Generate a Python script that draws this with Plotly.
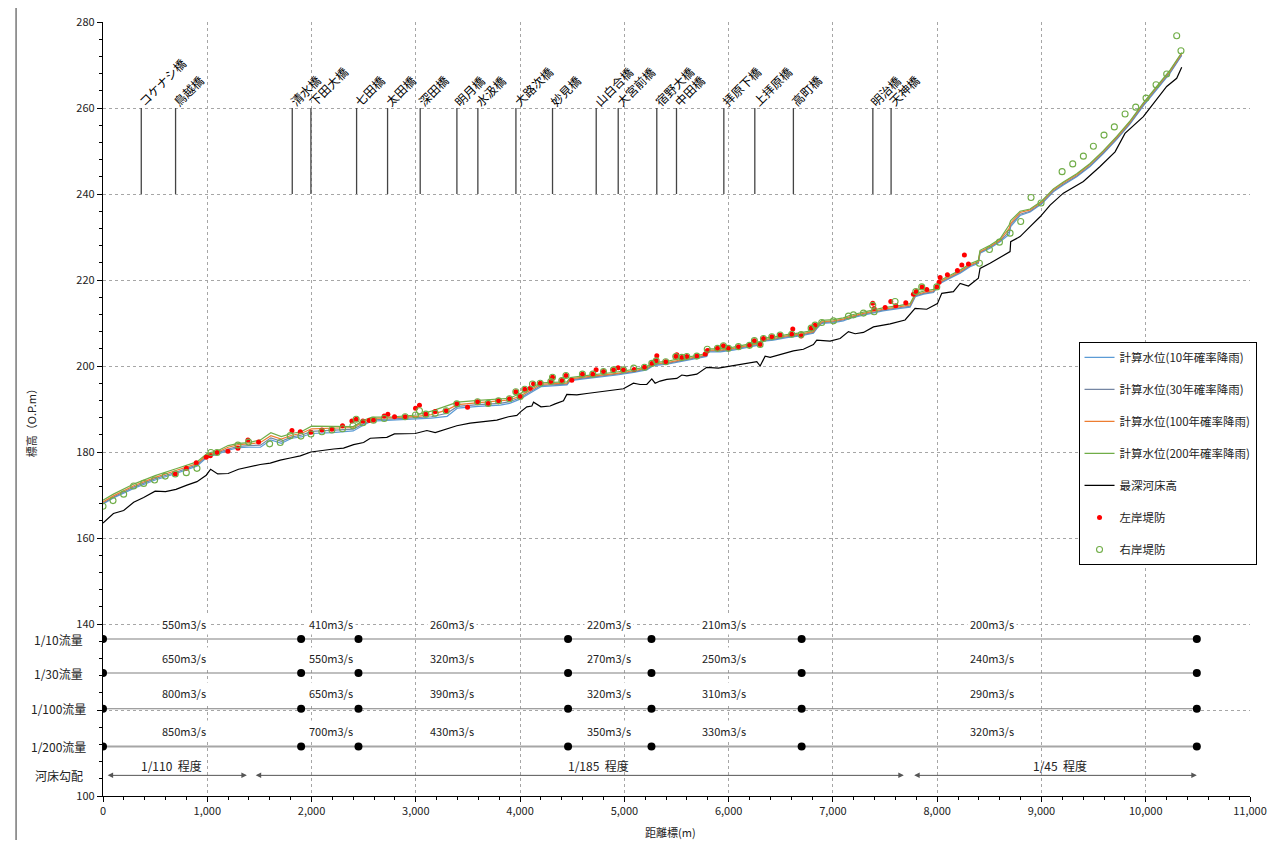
import plotly.graph_objects as go

FONT = "Noto Sans CJK JP"

# ---------------- data ----------------
bridge_names = ["コケナシ橋", "鳥越橋", "清水橋", "下田大橋", "七田橋", "太田橋", "深田橋", "明月橋",
                "水汲橋", "大路次橋", "妙見橋", "山白合橋", "大宮前橋", "宿野大橋", "中田橋",
                "拝原下橋", "上拝原橋", "高町橋", "明治橋", "天神橋"]
bridge_x = [367, 696, 1815, 1994, 2432, 2729, 3042, 3394, 3595, 3960, 4311, 4730, 4941, 5311,
            5500, 5954, 6251, 6621, 7383, 7558]
bridge_bottom, bridge_top = 240, 260

wl_x = [0, 100, 300, 500, 700, 900, 1000, 1100, 1200, 1300, 1400, 1510, 1610, 1710, 1810, 1900,
        2000, 2200, 2400, 2500, 2580, 2790, 3010, 3150, 3300, 3400, 3600, 3810, 3900, 4000, 4130,
        4200, 4450, 4480, 4610, 4770, 4930, 5090, 5215, 5280, 5410, 5535, 5665, 5790, 5806, 5920,
        6045, 6175, 6300, 6335, 6430, 6557, 6685, 6813, 6845, 6893, 7005, 7100, 7165, 7325, 7480,
        7645, 7740, 7790, 7870, 7965, 8028, 8124, 8220, 8315, 8395, 8411, 8507, 8603, 8690, 8705,
        8795, 8891, 9003, 9114, 9210, 9338, 9466, 9594, 9722, 9850, 9977, 10105, 10233, 10345]
wl_10 = [167.9, 169.3, 171.6, 173.5, 175.0, 176.7, 178.8, 179.5, 180.4, 181.0, 181.1, 181.1, 182.8,
         182.0, 183.2, 183.5, 184.3, 184.5, 184.9, 186.3, 187.2, 187.4, 187.6, 187.9, 188.3, 190.2,
         190.6, 190.9, 191.3, 192.3, 194.2, 195.2, 195.6, 196.6, 197.0, 197.4, 197.9, 198.5, 199.1,
         200.1, 200.4, 201.0, 201.6, 202.2, 203.3, 203.3, 203.7, 204.3, 204.9, 205.8, 206.0, 206.6,
         207.0, 207.6, 208.7, 209.9, 210.1, 210.5, 211.1, 212.0, 212.8, 213.4, 213.7, 216.1, 216.7,
         217.1, 219.2, 220.4, 221.6, 223.1, 223.9, 226.2, 227.4, 228.9, 230.6, 232.4, 235.0, 235.8,
         237.7, 240.5, 242.1, 244.0, 246.4, 249.4, 252.7, 256.3, 260.5, 264.3, 268.1, 272.2]
wl_30 = [168.1, 169.5, 171.9, 173.8, 175.3, 177.0, 179.1, 179.8, 180.7, 181.3, 181.5, 181.6, 183.3,
         182.5, 183.5, 183.9, 184.8, 185.0, 185.3, 186.6, 187.5, 187.7, 187.9, 188.2, 189.0, 190.6,
         191.0, 191.3, 191.7, 192.6, 194.5, 195.5, 195.8, 196.8, 197.2, 197.6, 198.1, 198.7, 199.3,
         200.3, 200.6, 201.2, 201.8, 202.4, 203.5, 203.5, 203.9, 204.5, 205.1, 206.0, 206.2, 206.8,
         207.2, 207.8, 208.9, 210.1, 210.3, 210.7, 211.3, 212.2, 213.0, 213.6, 213.9, 216.3, 216.9,
         217.3, 219.4, 220.6, 221.8, 223.3, 224.1, 226.4, 227.6, 229.1, 231.2, 232.8, 235.3, 236.0,
         237.9, 240.7, 242.3, 244.2, 246.6, 249.6, 252.9, 256.5, 260.7, 264.5, 268.3, 272.4]
wl_100 = [168.4, 169.8, 172.2, 174.1, 175.7, 177.3, 179.4, 180.0, 181.1, 181.7, 181.9, 182.2, 183.8,
          183.0, 183.9, 184.3, 185.4, 185.5, 185.7, 187.0, 187.8, 188.0, 188.3, 188.7, 189.8, 191.0,
          191.4, 191.8, 192.1, 193.0, 194.8, 195.8, 196.0, 197.0, 197.4, 197.8, 198.3, 198.9, 199.5,
          200.5, 200.8, 201.4, 202.0, 202.6, 203.7, 203.7, 204.1, 204.7, 205.3, 206.2, 206.4, 207.0,
          207.4, 208.0, 209.1, 210.3, 210.5, 210.9, 211.5, 212.4, 213.2, 213.8, 214.2, 216.5, 217.1,
          217.5, 219.6, 220.8, 222.0, 223.5, 224.3, 226.6, 227.8, 229.3, 232.0, 233.2, 235.7, 236.3,
          238.2, 241.0, 242.6, 244.5, 246.9, 249.9, 253.2, 256.8, 261.0, 264.8, 268.6, 272.7]
wl_200 = [168.8, 170.2, 172.6, 174.5, 176.1, 177.7, 179.7, 180.3, 181.5, 182.0, 182.2, 182.8, 184.5,
          183.6, 184.3, 184.7, 186.0, 186.0, 185.9, 187.4, 188.1, 188.2, 188.6, 189.5, 190.8, 191.6,
          192.0, 192.3, 192.5, 193.6, 195.2, 196.1, 196.3, 197.3, 197.7, 198.1, 198.6, 199.2, 199.8,
          200.8, 201.1, 201.7, 202.3, 202.9, 204.0, 204.0, 204.4, 205.0, 205.6, 206.5, 206.7, 207.3,
          207.7, 208.3, 209.4, 210.6, 210.8, 211.2, 211.8, 212.7, 213.5, 214.1, 214.5, 216.8, 217.4,
          217.8, 219.9, 221.1, 222.3, 223.8, 224.6, 226.9, 228.1, 229.6, 232.8, 233.8, 236.0, 236.5,
          238.4, 241.2, 242.8, 244.7, 247.1, 250.1, 253.4, 257.0, 261.2, 265.0, 268.8, 272.9]

bed_x = [0, 100, 198, 294, 390, 500, 600, 700, 805, 901, 990, 1032, 1100, 1200, 1300, 1400, 1508,
         1604, 1700, 1796, 1892, 1994, 2100, 2212, 2307, 2403, 2499, 2563, 2722, 2795, 2994, 3074,
         3106, 3186, 3282, 3393, 3521, 3681, 3777, 3889, 3969, 4007, 4065, 4113, 4129, 4200, 4288,
         4336, 4416, 4448, 4544, 4640, 4768, 4896, 4991, 5087, 5151, 5215, 5263, 5295, 5343, 5407,
         5503, 5551, 5599, 5695, 5790, 5902, 6014, 6142, 6270, 6302, 6350, 6398, 6526, 6621, 6717,
         6813, 6845, 6973, 7069, 7149, 7213, 7293, 7389, 7549, 7692, 7788, 7900, 8002, 8044, 8156,
         8220, 8300, 8395, 8411, 8507, 8603, 8699, 8705, 8795, 8891, 8987, 9083, 9210, 9402, 9562,
         9706, 9801, 9977, 10105, 10201, 10297, 10345]
bed_z = [163.5, 165.7, 166.4, 168.3, 169.4, 170.9, 170.8, 171.3, 172.3, 173.1, 174.6, 176.0, 174.9,
         175.0, 176.0, 176.6, 177.1, 177.4, 178.1, 178.6, 179.1, 180.0, 180.4, 180.7, 180.9, 181.7,
         182.2, 183.2, 183.4, 184.2, 184.3, 184.7, 185.0, 184.5, 185.3, 186.1, 186.7, 187.1, 187.4,
         188.2, 188.5, 189.4, 190.5, 190.7, 191.6, 190.5, 190.7, 191.2, 191.9, 193.4, 193.3, 193.6,
         194.0, 194.3, 194.7, 196.0, 195.7, 195.7, 197.0, 196.0, 196.5, 196.9, 197.1, 197.9, 197.7,
         198.1, 199.7, 199.5, 200.0, 200.5, 201.0, 200.0, 202.3, 202.0, 202.8, 203.5, 203.9, 205.0,
         206.0, 205.8, 206.4, 208.0, 207.5, 207.8, 209.1, 209.8, 210.7, 213.4, 213.2, 214.5, 216.9,
         217.3, 219.2, 218.6, 220.4, 222.7, 223.9, 225.3, 226.6, 228.9, 230.1, 232.4, 234.7, 237.4,
         240.2, 242.9, 246.4, 249.8, 254.1, 258.0, 261.9, 265.0, 266.9, 269.5]

left_x = [693, 799, 894, 990, 1029, 1093, 1198, 1294, 1390, 1492, 1812, 1892, 1994, 2099, 2195,
          2297, 2387, 2428, 2492, 2553, 2594, 2697, 2732, 2796, 2898, 2997, 3035, 3096, 3186, 3291,
          3393, 3496, 3592, 3694, 3793, 3898, 3959, 4001, 4045, 4097, 4129, 4193, 4295, 4311, 4400,
          4440, 4496, 4598, 4697, 4729, 4800, 4896, 4940, 4991, 5094, 5193, 5263, 5305, 5311, 5397,
          5493, 5503, 5551, 5599, 5695, 5775, 5797, 5893, 5950, 5998, 6094, 6200, 6247, 6302, 6334,
          6414, 6494, 6605, 6615, 6695, 6791, 6829, 7382, 7395, 7501, 7555, 7603, 7699, 7772, 7800,
          7855, 7900, 7996, 8018, 8028, 8098, 8194, 8236, 8261, 8300]
left_z = [174.9, 176.2, 177.5, 178.8, 179.1, 179.9, 180.2, 180.9, 182.8, 182.3, 185.0, 184.7, 184.6,
          185.1, 185.3, 186.1, 187.2, 187.6, 187.2, 187.3, 187.4, 188.4, 188.8, 188.2, 188.2, 190.2,
          190.9, 188.8, 189.4, 189.6, 191.2, 190.4, 191.7, 191.3, 191.9, 192.4, 194.0, 192.9, 194.6,
          194.8, 195.9, 196.0, 196.4, 197.4, 196.6, 197.8, 196.7, 198.1, 198.1, 199.1, 198.7, 199.1,
          199.6, 199.1, 199.2, 199.7, 200.6, 201.2, 202.4, 201.0, 202.2, 202.6, 202.0, 202.2, 202.3,
          202.8, 203.6, 204.1, 204.7, 204.1, 204.5, 204.8, 205.9, 205.0, 206.4, 206.8, 207.2, 207.4,
          208.6, 207.0, 208.8, 209.5, 214.6, 213.4, 213.6, 215.0, 214.0, 214.7, 216.7, 217.3, 218.4,
          217.8, 218.4, 219.5, 220.6, 221.2, 222.2, 223.5, 225.8, 223.7]

right_x = [0, 96, 198, 294, 390, 495, 597, 693, 799, 901, 1035, 1093, 1294, 1396, 1598, 1700, 1796,
           1898, 1994, 2099, 2195, 2297, 2397, 2428, 2492, 2594, 2697, 2898, 2997, 3035, 3096, 3186,
           3291, 3393, 3592, 3694, 3793, 3898, 3959, 4001, 4045, 4119, 4193, 4295, 4311, 4400, 4440,
           4598, 4697, 4800, 4896, 4991, 5090, 5193, 5263, 5305, 5397, 5493, 5551, 5599, 5695, 5795,
           5893, 5950, 5998, 6094, 6200, 6247, 6302, 6334, 6414, 6494, 6605, 6695, 6791, 6829, 6893,
           7005, 7149, 7197, 7293, 7382, 7395, 7596, 7795, 7852, 7996, 8405, 8501, 8597, 8699, 8801,
           8900, 8996, 9198, 9300, 9402, 9498, 9600, 9699, 9802, 9904, 10003, 10099, 10201, 10297,
           10338]
right_z = [167.4, 168.7, 170.2, 172.1, 172.7, 173.5, 174.4, 174.9, 175.2, 176.2, 179.9, 179.9, 181.6,
           182.3, 181.9, 182.2, 183.8, 183.7, 184.2, 184.7, 185.1, 185.4, 186.1, 187.6, 186.8, 187.4,
           187.8, 188.2, 188.6, 189.6, 188.8, 189.0, 189.6, 191.2, 191.7, 191.3, 191.9, 192.4, 194.0,
           192.9, 194.6, 195.8, 196.0, 196.4, 197.4, 196.6, 197.8, 198.1, 198.1, 198.7, 199.1, 199.1,
           199.5, 199.7, 200.6, 201.2, 201.0, 202.2, 202.0, 202.2, 202.3, 203.9, 204.1, 204.7, 204.1,
           204.5, 204.8, 205.9, 205.0, 206.4, 206.8, 207.2, 207.4, 207.3, 208.8, 209.5, 210.1, 210.5,
           211.6, 211.9, 212.3, 214.1, 212.6, 215.0, 217.3, 218.4, 218.4, 223.9, 227.1, 228.8, 230.9,
           233.6, 239.2, 237.9, 245.2, 247.0, 248.8, 251.1, 253.7, 255.6, 258.6, 260.2, 262.3, 265.4,
           267.9, 276.8, 273.3]

# flow table (lower panel)
flow_breaks = [0, 1900, 2450, 4460, 5260, 6700, 10490]
flow_label_x = [780, 2190, 3350, 4857, 5952, 8527]
flow_rows = ["1/10流量", "1/30流量", "1/100流量", "1/200流量"]
flow_row_y = [136.5, 128.6, 120.3, 111.5]
flow_text_y = [140.0, 132.1, 124.0, 115.1]
flow_values = [
    [550, 410, 260, 220, 210, 200],
    [650, 550, 320, 270, 250, 240],
    [800, 650, 390, 320, 310, 290],
    [850, 700, 430, 350, 330, 320],
]
slope_row = "河床勾配"
slope_y = 104.8
slope_text_y = 107.0
slope_start = [30, 1450, 7765]
slope_end = [1380, 7680, 10490]
slope_label_x = [660, 4755, 9180]
slope_labels = ["1/110  程度", "1/185  程度", "1/45  程度"]

y_tickvals = [100, 120, 140, 160, 180, 200, 220, 240, 260, 280]
y_ticktext = ["100", "", "140", "160", "180", "200", "220", "240", "260", "280"]

# ---------------- figure ----------------
fig = go.Figure()

wl_series = [
    ("計算水位(10年確率降雨)", wl_10, "#5B9BD5"),
    ("計算水位(30年確率降雨)", wl_30, "#7586A3"),
    ("計算水位(100年確率降雨)", wl_100, "#ED7D31"),
    ("計算水位(200年確率降雨)", wl_200, "#70AD47"),
]
for i, (name, vals, col) in enumerate(wl_series):
    fig.add_trace(go.Scatter(x=wl_x, y=vals, mode="lines", name=name,
                             line=dict(color=col, width=1.2), legendgroup=f"g{i}"))

fig.add_trace(go.Scatter(x=bed_x, y=bed_z, mode="lines", name="最深河床高",
                         line=dict(color="#000000", width=1.2), legendgroup="g4"))
fig.add_trace(go.Scatter(x=left_x, y=left_z, mode="markers", name="左岸堤防",
                         marker=dict(color="#FF0000", size=5, line=dict(width=0)), legendgroup="g5"))
fig.add_trace(go.Scatter(x=right_x, y=right_z, mode="markers", name="右岸堤防",
                         marker=dict(symbol="circle-open", color="#70AD47", size=6,
                                     line=dict(width=1.1, color="#70AD47")), legendgroup="g6"))

# bridges
bx, by = [], []
for b in bridge_x:
    bx += [b, b, None]
    by += [bridge_bottom, bridge_top, None]
fig.add_trace(go.Scatter(x=bx, y=by, mode="lines", line=dict(color="#444444", width=1.3),
                         showlegend=False, hoverinfo="skip"))
for name, b in zip(bridge_names, bridge_x):
    fig.add_annotation(x=b, y=bridge_top, text=name, showarrow=False, textangle=-45,
                       xanchor="left", yanchor="bottom", xshift=-9, yshift=-4,
                       font=dict(family=FONT, size=12, color="#000"))

# flow rows
for r, (lab, ry, ty, vals) in enumerate(zip(flow_rows, flow_row_y, flow_text_y, flow_values)):
    col = "#A6A6A6" if r == 3 else "#808080"
    w = 2 if r == 3 else 1.1
    fig.add_trace(go.Scatter(x=flow_breaks, y=[ry] * len(flow_breaks), mode="lines+markers",
                             line=dict(color=col, width=w),
                             marker=dict(color="#000", size=8), showlegend=False, hoverinfo="skip"))
    for lx, v in zip(flow_label_x, vals):
        fig.add_annotation(x=lx, y=ty, text=f"{v}m3/s", showarrow=False, bgcolor="white",
                           borderpad=2, font=dict(family=FONT, size=11, color="#222"))
    fig.add_annotation(x=-0.0385, xref="paper", y=ry, text=lab, showarrow=False,
                       xanchor="center", font=dict(family=FONT, size=12, color="#222"))

fig.add_annotation(x=-0.0385, xref="paper", y=slope_y, text=slope_row, showarrow=False,
                   xanchor="center", font=dict(family=FONT, size=12, color="#222"))
for s, e in zip(slope_start, slope_end):
    fig.add_annotation(x=e, y=slope_y, ax=s, ay=slope_y, axref="x", ayref="y", text="",
                       showarrow=True, arrowhead=2, arrowside="end+start", arrowsize=1.1,
                       arrowwidth=1, arrowcolor="#555555")
for lx, t in zip(slope_label_x, slope_labels):
    fig.add_annotation(x=lx, y=slope_text_y, text=t, showarrow=False,
                       font=dict(family=FONT, size=12, color="#222"))

# axis titles
fig.add_annotation(x=-0.0625, xref="paper", y=0.486, yref="paper", text="標高（O.P.m）",
                   textangle=-90, showarrow=False, xanchor="center", yanchor="middle",
                   font=dict(family=FONT, size=11, color="#222"))
fig.add_annotation(x=0.495, xref="paper", y=-0.0465, yref="paper", text="距離標(m)",
                   showarrow=False, xanchor="center", yanchor="middle",
                   font=dict(family=FONT, size=11, color="#222"))

# outer frame (left edge)
fig.add_shape(type="line", xref="paper", yref="paper", x0=-0.0758, x1=-0.0758, y0=-0.07, y1=1.03,
              line=dict(color="#333", width=1))

grid = dict(showgrid=True, gridcolor="#A6A6A6", griddash="dot", gridwidth=1)
fig.update_xaxes(range=[0, 11000], dtick=1000, tickformat=",d", ticks="outside", ticklen=5,
                 tickcolor="#000", showline=True, linecolor="#000", linewidth=1.2,
                 zeroline=False, automargin=False,
                 tickfont=dict(family=FONT, size=11, color="#222"),
                 minor=dict(dtick=200, ticks="outside", ticklen=3, tickcolor="#000", showgrid=False),
                 **grid)
fig.update_yaxes(range=[100, 280], tickmode="array", tickvals=y_tickvals, ticktext=y_ticktext,
                 ticks="outside", ticklen=5, tickcolor="#000", showline=True, linecolor="#000",
                 linewidth=1.2, zeroline=False, automargin=False,
                 tickfont=dict(family=FONT, size=11, color="#222"),
                 minor=dict(tickmode="linear", tick0=100, dtick=4, ticks="outside", ticklen=3,
                            tickcolor="#000", showgrid=False),
                 **grid)

# page body has an 8px margin: figure placed at (8, 8)
fig.update_layout(
    width=1259, height=832,
    margin=dict(l=95, r=17, t=14, b=44, autoexpand=False),
    paper_bgcolor="white", plot_bgcolor="white",
    font=dict(family=FONT, size=11, color="#222"),
    legend=dict(x=0.8505, y=0.5866, xanchor="left", yanchor="top", bgcolor="white",
                bordercolor="#000", borderwidth=1, font=dict(family=FONT, size=11.5, color="#222"),
                traceorder="grouped", tracegroupgap=13, itemwidth=30),
    showlegend=True,
)

fig.write_html("out.html")
